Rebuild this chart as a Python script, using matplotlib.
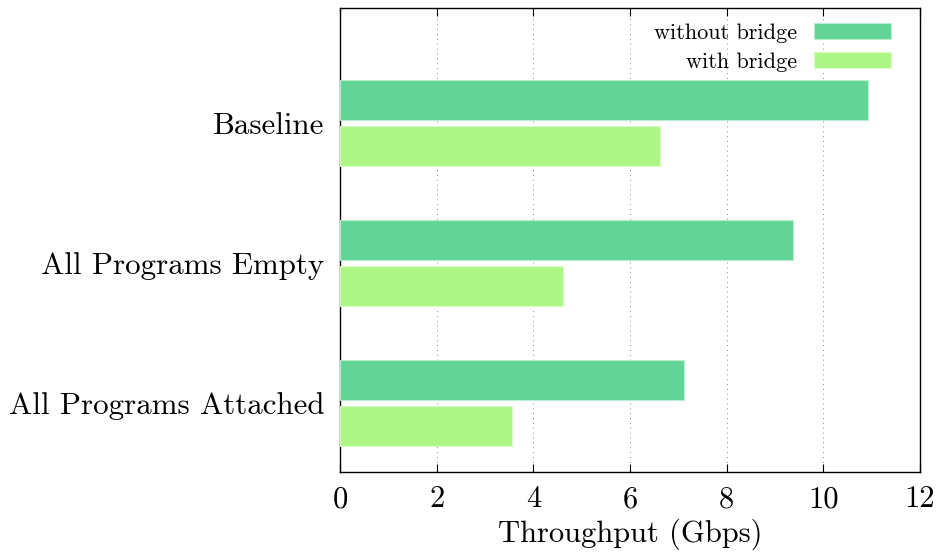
import numpy as np
import matplotlib
matplotlib.use("Agg")
import matplotlib.pyplot as plt

categories = ["Baseline", "All Programs Empty", "All Programs Attached"]
without_bridge = [10.92, 9.37, 7.12]
with_bridge = [6.62, 4.61, 3.56]
series_labels = ["without bridge", "with bridge"]
x_ticks = [0, 2, 4, 6, 8, 10, 12]

plt.rcParams["font.family"] = ["cmr10", "DejaVu Serif"]
plt.rcParams["axes.formatter.use_mathtext"] = True
plt.rcParams["mathtext.fontset"] = "cm"

fig = plt.figure(figsize=(9.36, 5.54), dpi=100)
ax = fig.add_axes([340 / 936, 1 - 472 / 554, 580 / 936, 464 / 554])

y = np.arange(len(categories))
bar_h = 0.286
offset = 0.164

ax.barh(y - offset, without_bridge, height=bar_h, color="#62D596",
        edgecolor="#B8EDCF", linewidth=0.8, label=series_labels[0], zorder=3)
ax.barh(y + offset, with_bridge, height=bar_h, color="#ADF685",
        edgecolor="#DDFBC8", linewidth=0.8, label=series_labels[1], zorder=3)

ax.set_xlim(0, 12)
ax.set_ylim(2.49, -0.82)
ax.set_xticks(x_ticks)
ax.set_xticklabels([str(t) for t in x_ticks])
ax.set_yticks(y)
ax.set_yticklabels(categories)

ax.tick_params(axis="x", direction="in", top=True, bottom=True, length=6,
               width=0.8, labelsize=22, pad=10)
ax.tick_params(axis="y", length=0, labelsize=22.3, pad=11)

ax.grid(axis="x", linestyle=(0, (1, 4)), color="#888888", linewidth=0.7, zorder=0)
for s in ax.spines.values():
    s.set_linewidth(1.0)
    s.set_color("black")

ax.set_xlabel("Throughput (Gbps)", fontsize=22, labelpad=4)

leg = ax.legend(loc="upper right", bbox_to_anchor=(1 - 29 / 580, 1 - 15 / 464),
                frameon=False, markerfirst=False, fontsize=16,
                handlelength=3.47, handleheight=0.72, labelspacing=0.44,
                borderaxespad=0, borderpad=0, handletextpad=0.77)

fig.savefig("out.png", dpi=100)
